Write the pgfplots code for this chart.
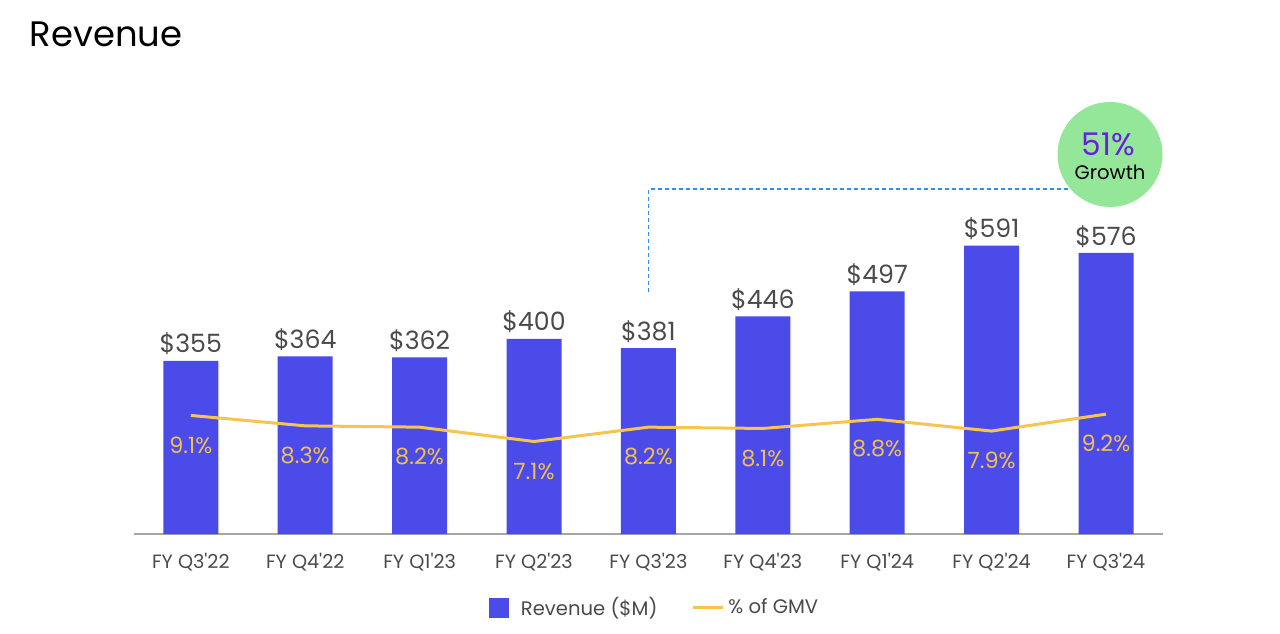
\documentclass[border=0pt]{standalone}
\usepackage{fontspec}
\setmainfont{Poppins}[Ligatures=TeXOff]
\usepackage{pgfplots}
\pgfplotsset{compat=1.18}
\definecolor{barblue}{HTML}{4A4BE8}
\definecolor{lineyellow}{HTML}{F7C54D}
\definecolor{pcttext}{HTML}{F4C14F}
\definecolor{labelgray}{HTML}{4A4A4A}
\definecolor{axisgray}{HTML}{A6A6A6}
\definecolor{circgreen}{HTML}{94E699}
\definecolor{growpurple}{HTML}{6A1FE0}
\definecolor{dotblue}{HTML}{2E8FF0}
\begin{document}
\begin{tikzpicture}
\begin{axis}[
  x=57.2pt, y=0.244pt,
  xmin=-0.5, xmax=8.5, ymin=0, ymax=700,
  axis x line*=bottom, axis y line=none,
  x axis line style={draw=axisgray, line width=1pt, -},
  xtick={0,...,8},
  xticklabels={FY Q3'22,FY Q4'22,FY Q1'23,FY Q2'23,FY Q3'23,FY Q4'23,FY Q1'24,FY Q2'24,FY Q3'24},
  major tick length=0pt,
  xticklabel style={font=\fontsize{9.6}{11}\selectfont, text=labelgray, anchor=base, yshift=-17.1pt},
  ybar, bar width=27.5pt,
  clip=false,
  nodes near coords={\$\pgfmathprintnumber[assume math mode=true]{\pgfplotspointmeta}},
  nodes near coords style={font=\fontsize{12.6}{15}\selectfont, text=labelgray, anchor=base, yshift=3.9pt},
]
\addplot[fill=barblue, draw=none] coordinates {(0,355) (1,364) (2,362) (3,400) (4,381) (5,446) (6,497) (7,591) (8,576)};
\draw[dotblue, line width=0.75pt, dash pattern=on 2pt off 1.5pt] (axis cs:4,496.5) -- (axis cs:4,707) -- (axis cs:8.0,707);
\fill[circgreen] (axis cs:8.035,777.7) circle[radius=26.25pt];
\node[anchor=base, text=growpurple, font=\fontsize{15.6}{18}\selectfont, inner sep=0pt, text depth=0pt] at (axis cs:8.02,775) {51\%};
\node[anchor=base, text=black, font=\fontsize{9.8}{11}\selectfont, inner sep=0pt, text height=6.6pt] at (axis cs:8.035,727) {Growth};
\node[anchor=base west, font=\fontsize{17.7}{20}\selectfont, inner sep=0pt] at (axis cs:-1.4095,998.6) {Revenue};
\end{axis}
\begin{axis}[
  x=57.2pt, y=6.515pt,
  xmin=-0.5, xmax=8.5, ymin=0, ymax=26.2,
  hide axis, clip=false,
  legend columns=2,
  legend style={at={(rel axis cs:0.507,-0.215)}, anchor=center, draw=none, fill=none,
    font=\fontsize{9.8}{11}\selectfont, text=labelgray,
    /tikz/every even column/.append style={column sep=15pt}},
  nodes near coords={\pgfmathprintnumber[fixed,fixed zerofill,precision=1,assume math mode=true]{\pgfplotspointmeta}\%},
  nodes near coords style={font=\fontsize{11.2}{13}\selectfont, text=pcttext, anchor=base, yshift=-18.8pt},
]
\addlegendimage{legend image code/.code={\fill[barblue] (0pt,-4.75pt) rectangle (9.5pt,4.75pt);}}
\addlegendentry{\hspace{4pt}Revenue (\$M)}
\addplot[lineyellow, line width=1.5pt, mark=none,
  legend image code/.code={\draw[lineyellow, line width=1.5pt] (0pt,0pt) -- (15pt,0pt);}]
  coordinates {(0,9.1) (1,8.3) (2,8.2) (3,7.1) (4,8.2) (5,8.1) (6,8.8) (7,7.9) (8,9.2)};
\addlegendentry{\% of GMV}
\end{axis}
\pgfresetboundingbox
\path[use as bounding box] (-66.8pt,-49.5pt) rectangle (573.2pt,267pt);
\end{tikzpicture}
\end{document}
